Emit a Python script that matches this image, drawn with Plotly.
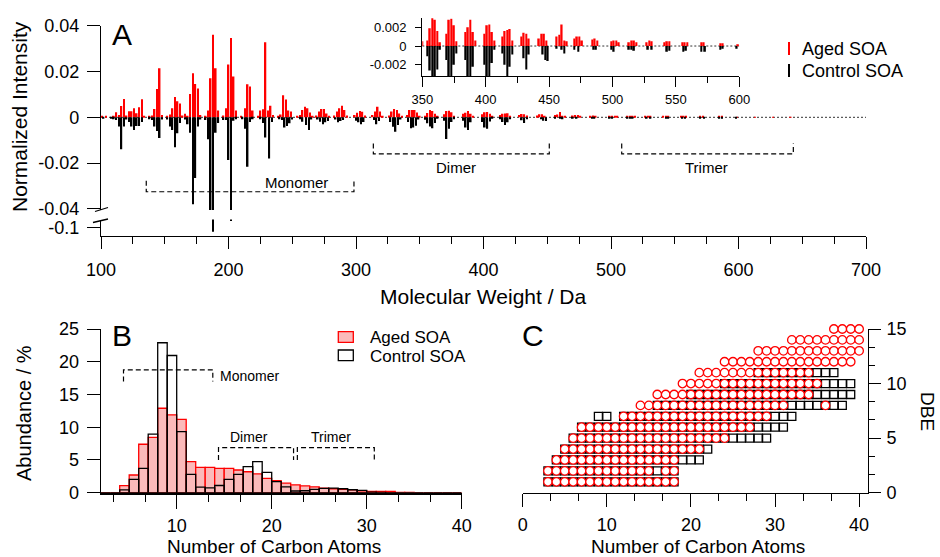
import plotly.graph_objects as go

W, H = 940, 557
def px(x): return x / W
def py(y): return 1 - y / H

FONT = "Liberation Sans, Arial, Helvetica, sans-serif"
RED = "#ff0000"
PINK = "#fbbaba"

# ---------------- Panel A: mass spectra (m/z in Da, normalized intensity) ----------------
aged_mz = [101, 104,
           110, 112, 114, 116, 118, 120,
           122, 124, 126, 128, 130, 132, 134,
           138, 140, 142, 144, 146, 148,
           152, 154, 156, 158, 160, 162, 164,
           166, 168, 170, 172, 174, 176, 178,
           182, 184, 186, 188, 190, 192,
           196, 198, 200, 202, 204, 206,
           210, 213, 215, 217, 219,
           223, 225, 227, 229, 231, 233, 235,
           239, 241, 243, 245, 247, 249,
           254, 256, 258, 260, 262, 264, 266,
           269, 271, 273, 275, 277, 279,
           283, 285, 287, 289, 291, 293,
           299, 301, 303, 305, 307,
           313, 315, 317, 319, 321,
           326, 328, 330, 332, 334, 336,
           340, 342, 344, 346, 348, 350,
           354, 356, 358, 360, 362, 364,
           369, 371, 373, 375, 377,
           384, 386, 388, 390, 392,
           399, 401, 403, 405, 407,
           413, 415, 417, 419, 421,
           428, 430, 432, 434,
           442, 444, 446, 448,
           456, 458, 460, 462, 464,
           470, 472, 474, 476,
           484, 486, 488,
           499, 501, 503, 505,
           513, 515, 517, 519,
           527, 529, 531,
           541, 543, 545,
           555, 557, 559,
           570, 572,
           585, 587,
           599, 613, 627, 641]
aged_int = [0.0007, 0.0006,
            0.0006, 0.0022, 0.0010, 0.0049, 0.0080, 0.0008,
            0.0026, 0.0026, 0.0040, 0.0018, 0.0044, 0.0079, 0.0006,
            0.0005, 0.0008, 0.0036, 0.0124, 0.0214, 0.0010,
            0.0005, 0.0012, 0.0040, 0.0089, 0.0070, 0.0060, 0.0008,
            0.0015, 0.0006, 0.0102, 0.0192, 0.0145, 0.0126, 0.0010,
            0.0005, 0.0030, 0.0170, 0.0360, 0.0214, 0.0030,
            0.0008, 0.0040, 0.0231, 0.0346, 0.0178, 0.0030,
            0.0006, 0.0040, 0.0144, 0.0134, 0.0030,
            0.0006, 0.0030, 0.0035, 0.0328, 0.0030, 0.0050, 0.0010,
            0.0006, 0.0012, 0.0096, 0.0078, 0.0030, 0.0025,
            0.0006, 0.0010, 0.0032, 0.0046, 0.0039, 0.0021, 0.0006,
            0.0008, 0.0025, 0.0036, 0.0036, 0.0017, 0.0006,
            0.0008, 0.0025, 0.0040, 0.0050, 0.0032, 0.0008,
            0.0010, 0.0020, 0.0027, 0.0024, 0.0008,
            0.0010, 0.0025, 0.0046, 0.0025, 0.0006,
            0.0008, 0.0025, 0.0036, 0.0032, 0.0017, 0.0005,
            0.0010, 0.0032, 0.0032, 0.0032, 0.0021, 0.0005,
            0.0006, 0.0019, 0.0032, 0.0028, 0.0016, 0.0004,
            0.0013, 0.0028, 0.0029, 0.0022, 0.0005,
            0.0015, 0.0020, 0.0028, 0.0015, 0.0006,
            0.0013, 0.0022, 0.0023, 0.0015, 0.0006,
            0.0010, 0.0016, 0.0017, 0.0018, 0.0006,
            0.0010, 0.0014, 0.0013, 0.0008,
            0.0008, 0.0013, 0.0013, 0.0006,
            0.0010, 0.0012, 0.0023, 0.0006, 0.0005,
            0.0008, 0.0010, 0.0010, 0.0006,
            0.0007, 0.0008, 0.0006,
            0.0005, 0.0006, 0.0006, 0.0004,
            0.0004, 0.0006, 0.0006, 0.0004,
            0.0004, 0.0006, 0.0005,
            0.0004, 0.0005, 0.0005,
            0.0004, 0.0004, 0.0004,
            0.0004, 0.0004,
            0.0003, 0.0003,
            0.0002, 0.0002, 0.0002, 0.0001]

control_mz = [102,
              108, 110, 112, 114, 116, 118, 120,
              122, 124, 126, 128, 130, 132,
              138, 140, 142, 144, 146, 148,
              152, 154, 156, 158, 160, 162,
              166, 168, 170, 172, 174, 176, 178,
              182, 184, 186, 188, 190, 192,
              196, 198, 200, 202, 204, 206,
              211, 213, 215, 217, 219,
              225, 227, 229, 232, 234,
              240, 242, 244, 246, 248, 250,
              256, 258, 261, 263, 265,
              270, 272, 274, 276, 278,
              284, 286, 288, 290,
              300, 302, 304, 306,
              314, 316, 318,
              327, 329, 331, 333, 335,
              341, 343, 345, 347, 349,
              354, 356, 358, 360, 362, 364,
              369, 371, 373, 375, 377,
              384, 386, 388, 390,
              399, 401, 403, 405, 407,
              413, 415, 417, 419, 421,
              430, 432, 434,
              445, 447, 449,
              456, 460, 462,
              470, 473,
              485, 487,
              499, 501,
              513, 515, 517,
              528, 531,
              543, 545,
              556, 558,
              570, 573,
              585, 587,
              598]
control_int = [-0.0004,
               -0.0006, -0.0008, -0.0012, -0.0040, -0.0140, -0.0040, -0.0010,
               -0.0020, -0.0040, -0.0055, -0.0038, -0.0038, -0.0020,
               -0.0008, -0.0012, -0.0040, -0.0060, -0.0090, -0.0010,
               -0.0010, -0.0040, -0.0055, -0.0131, -0.0070, -0.0025,
               -0.0010, -0.0030, -0.0068, -0.0380, -0.0265, -0.0040, -0.0010,
               -0.0012, -0.0096, -0.0520, -0.1050, -0.0067, -0.0025,
               -0.0012, -0.0012, -0.0187, -0.0920, -0.0015, -0.0008,
               -0.0008, -0.0050, -0.0216, -0.0020, -0.0008,
               -0.0008, -0.0025, -0.0088, -0.0180, -0.0020,
               -0.0008, -0.0012, -0.0044, -0.0038, -0.0026, -0.0010,
               -0.0008, -0.0019, -0.0034, -0.0055, -0.0010,
               -0.0010, -0.0019, -0.0030, -0.0022, -0.0016,
               -0.0010, -0.0022, -0.0016, -0.0012,
               -0.0015, -0.0022, -0.0030, -0.0020,
               -0.0012, -0.0030, -0.0016,
               -0.0020, -0.0041, -0.0063, -0.0034, -0.0010,
               -0.0020, -0.0048, -0.0045, -0.0037, -0.0010,
               -0.0011, -0.0026, -0.0040, -0.0048, -0.0025, -0.0004,
               -0.0015, -0.0095, -0.0050, -0.0020, -0.0008,
               -0.0015, -0.0045, -0.0055, -0.0022,
               -0.0020, -0.0045, -0.0050, -0.0018, -0.0004,
               -0.0008, -0.0020, -0.0034, -0.0022, -0.0009,
               -0.0013, -0.0025, -0.0009,
               -0.0009, -0.0015, -0.0016,
               -0.0003, -0.0004, -0.0008,
               -0.0004, -0.0006,
               -0.0004, -0.0004,
               -0.0004, -0.0006,
               -0.0004, -0.0004, -0.0005,
               -0.0004, -0.0004,
               -0.0006, -0.0005,
               -0.0006, -0.0005,
               -0.0006, -0.0006,
               -0.0004, -0.0003,
               -0.0003]

# ---------------- Panel B: carbon-number distribution (%) ----------------
carbon_bins = [2, 3, 4, 5, 6, 7, 8, 9, 10, 11, 12, 13, 14, 15, 16, 17, 18, 19, 20,
               21, 22, 23, 24, 25, 26, 27, 28, 29, 30, 31, 32, 33, 34, 35, 36, 37, 38, 39]
aged_abund = [0, 0, 1.07, 2.7, 7.4, 8.45, 12.9, 11.9, 11.2, 4.74, 3.88, 3.88, 3.73, 3.73, 3.47,
              3.2, 2.87, 2.2, 1.85, 1.45, 1.2, 1.05, 0.9, 0.7, 0.6, 0.5, 0.45, 0.3, 0.2, 0.2,
              0.2, 0.05, 0.03, 0, 0, 0, 0, 0]
control_abund = [0, 0, 0.42, 2.05, 3.73, 8.96, 22.9, 20.95, 9.33, 2.8, 0.85, 0.75, 1.1, 2.05, 2.8,
                 3.98, 4.74, 3.1, 1.7, 0.9, 0.26, 0.3, 0.5, 0.65, 0.7, 0.6, 0.45, 0.35, 0.1, 0.05,
                 0.02, 0, 0, 0, 0, 0, 0, 0]

# ---------------- Panel C: DBE vs carbon number (segments of carbon numbers per DBE) ----------------
aged_dbe = [1, 2, 3, 4, 5, 6, 7, 8, 9, 10, 11, 12, 13, 14, 15]
aged_segments = [[(3, 18)], [(3, 15), (17, 18)], [(4, 18)], [(5, 21)], [(6, 24)], [(7, 27)],
                 [(12, 29)], [(14, 31), (36, 36)], [(16, 34)], [(19, 35)], [(21, 34)],
                 [(24, 39)], [(28, 40)], [(32, 40)], [(37, 40)]]
control_dbe = [1, 2, 3, 4, 5, 6, 7, 8, 9, 10, 11]
control_segments = [[(3, 18)], [(3, 18)], [(4, 21)], [(5, 22)], [(6, 29)], [(7, 31)],
                    [(9, 10), (12, 32)], [(16, 38)], [(20, 39)], [(24, 39)], [(28, 37)]]

def expand(dbes, segs):
    cs, ds = [], []
    for d, sl in zip(dbes, segs):
        for a, b in sl:
            for c in range(a, b + 1):
                cs.append(c)
                ds.append(d)
    return cs, ds

aged_c, aged_d = expand(aged_dbe, aged_segments)
ctrl_c, ctrl_d = expand(control_dbe, control_segments)

fig = go.Figure()
BW = 1.25
# Panel A main
fig.add_trace(go.Bar(x=aged_mz, y=aged_int, width=BW, marker=dict(color=RED, line=dict(width=0)),
                     xaxis="x", yaxis="y"))
fig.add_trace(go.Bar(x=control_mz, y=control_int, width=BW, marker=dict(color="black", line=dict(width=0)),
                     xaxis="x", yaxis="y"))
low_mz = [m for m, v in zip(control_mz, control_int) if v < -0.09]
low_int = [v for v in control_int if v < -0.09]
fig.add_trace(go.Bar(x=low_mz, y=low_int, width=BW, marker=dict(color="black", line=dict(width=0)),
                     xaxis="x", yaxis="y2"))
# inset
fig.add_trace(go.Bar(x=aged_mz, y=aged_int, width=BW, marker=dict(color=RED, line=dict(width=0)),
                     xaxis="x3", yaxis="y3"))
fig.add_trace(go.Bar(x=control_mz, y=control_int, width=BW, marker=dict(color="black", line=dict(width=0)),
                     xaxis="x3", yaxis="y3"))
# Panel B
fig.add_trace(go.Bar(x=carbon_bins, y=aged_abund, width=1, offset=0,
                     marker=dict(color=PINK, line=dict(color=RED, width=1.3)), xaxis="x4", yaxis="y4"))
fig.add_trace(go.Bar(x=carbon_bins, y=control_abund, width=1, offset=0,
                     marker=dict(color="rgba(0,0,0,0)", line=dict(color="black", width=1.3)), xaxis="x4", yaxis="y4"))
# Panel C
fig.add_trace(go.Scatter(x=ctrl_c, y=ctrl_d, mode="markers", cliponaxis=False,
                         marker=dict(symbol="square", size=8, color="white", line=dict(color="black", width=1.3)),
                         xaxis="x5", yaxis="y5"))
fig.add_trace(go.Scatter(x=aged_c, y=aged_d, mode="markers", cliponaxis=False,
                         marker=dict(symbol="circle", size=8.5, color="white", line=dict(color=RED, width=1.3)),
                         xaxis="x5", yaxis="y5"))

def ax(**kw):
    d = dict(showgrid=False, zeroline=False, showline=True, linecolor="black", linewidth=1.3,
             ticks="outside", tickcolor="black", tickwidth=1.3, automargin=False,
             tickfont=dict(family=FONT, size=18, color="black"), fixedrange=True)
    d.update(kw)
    return d

def minor(t0, dt, ln):
    return dict(tick0=t0, dtick=dt, ticklen=ln, tickcolor="black", tickwidth=1.3, ticks="outside", showgrid=False)

layout = dict(
    width=W, height=H, autosize=False, margin=dict(l=0, r=0, t=0, b=0),
    paper_bgcolor="white", plot_bgcolor="rgba(0,0,0,0)", barmode="overlay", showlegend=False,
    font=dict(family=FONT, color="black"),
    xaxis=ax(domain=[px(101), px(866)], range=[100, 700], anchor="y2", tickmode="linear", tick0=100, dtick=100,
             ticklen=12.6, minor=minor(100, 25, 7.6), ticklabelstandoff=5),
    yaxis=ax(domain=[py(210), py(25.7)], range=[-0.04048, 0.04], anchor="x",
             tickmode="array", tickvals=[-0.04, -0.02, 0, 0.02, 0.04],
             ticktext=["-0.04", "-0.02", "0", "0.02", "0.04"], ticklen=13, ticklabelstandoff=4),
    yaxis2=ax(domain=[py(235.7), py(219.5)], range=[-0.11, -0.09], anchor="x",
              tickmode="array", tickvals=[-0.1], ticktext=["-0.1"], ticklen=13, ticklabelstandoff=4),
    xaxis3=ax(domain=[px(422.3), px(739.3)], range=[350, 600], anchor="y3", tickmode="linear", tick0=350, dtick=50,
              ticklen=10, minor=minor(350, 25, 6), tickfont=dict(family=FONT, size=13, color="black"),
              ticklabelstandoff=1),
    yaxis3=ax(domain=[py(76), py(18.3)], range=[-0.00319, 0.00295], anchor="x3",
              tickmode="array", tickvals=[-0.002, 0, 0.002], ticktext=["-0.002", "0", "0.002"], ticklen=6,
              tickfont=dict(family=FONT, size=13, color="black"), ticklabelstandoff=6),
    xaxis4=ax(domain=[px(100.7), px(461.7)], range=[2, 40], anchor="y4", tickmode="array",
              tickvals=[10, 20, 30, 40], ticklen=14, minor=minor(0, 10 / 3, 7), linewidth=2.2,
              ticklabelstandoff=2),
    yaxis4=ax(domain=[py(492.7), py(329)], range=[0, 25], anchor="x4", tickmode="linear", tick0=0, dtick=5,
              ticklen=13, ticklabelstandoff=4),
    xaxis5=ax(domain=[px(522.7), px(867.7)], range=[0, 41.02], anchor="y5", tickmode="array",
              tickvals=[0, 10, 20, 30, 40], ticklen=13, minor=minor(0, 10 / 3, 7), ticklabelstandoff=3),
    yaxis5=ax(domain=[py(492.7), py(329)], range=[0, 15], anchor="x5", side="right", tickmode="linear",
              tick0=0, dtick=5, ticklen=12, minor=minor(0, 5 / 3, 6), ticklabelstandoff=2),
)

dash = "5px,3px"
shapes = [
    # zero baselines
    dict(type="line", xref="x", yref="y", x0=100, x1=700, y0=0, y1=0, layer="below",
         line=dict(color="#333333", width=1, dash="2px,2px")),
    dict(type="line", xref="x3", yref="y3", x0=350, x1=600, y0=0, y1=0, layer="below",
         line=dict(color="#333333", width=1, dash="2px,2px")),
    # axis break marks
    dict(type="line", xref="paper", yref="paper", x0=px(95), y0=py(211.5), x1=px(108), y1=py(207.5),
         line=dict(color="black", width=1.3)),
    dict(type="line", xref="paper", yref="paper", x0=px(93), y0=py(222.5), x1=px(108), y1=py(219),
         line=dict(color="black", width=1.3)),
    # Panel A brackets
    dict(type="path", xref="x", yref="y", path="M 135.5,-0.0277 L 135.5,-0.0325 L 298.4,-0.0325 L 298.4,-0.0277",
         line=dict(color="black", width=1.2, dash=dash)),
    dict(type="path", xref="x", yref="y", path="M 313.6,-0.0114 L 313.6,-0.0160 L 451.6,-0.0160 L 451.6,-0.0114",
         line=dict(color="black", width=1.2, dash=dash)),
    dict(type="path", xref="x", yref="y", path="M 508.4,-0.0114 L 508.4,-0.0160 L 643,-0.0160 L 643,-0.0114",
         line=dict(color="black", width=1.2, dash=dash)),
    # Panel B brackets
    dict(type="path", xref="x4", yref="y4", path="M 4.4,16.97 L 4.4,18.76 L 13.8,18.76 L 13.8,16.97",
         line=dict(color="black", width=1.2, dash=dash)),
    dict(type="path", xref="x4", yref="y4", path="M 14.4,5.0 L 14.4,6.88 L 22.3,6.88 L 22.3,5.0",
         line=dict(color="black", width=1.2, dash=dash)),
    dict(type="path", xref="x4", yref="y4", path="M 22.7,5.0 L 22.7,6.88 L 30.8,6.88 L 30.8,5.0",
         line=dict(color="black", width=1.2, dash=dash)),
    # Panel A legend markers
    dict(type="line", xref="paper", yref="paper", x0=px(789), x1=px(789), y0=py(42), y1=py(55),
         line=dict(color=RED, width=2)),
    dict(type="line", xref="paper", yref="paper", x0=px(789), x1=px(789), y0=py(64), y1=py(77),
         line=dict(color="black", width=2)),
    # Panel B legend boxes
    dict(type="rect", xref="paper", yref="paper", x0=px(338.3), x1=px(353.3), y0=py(342.3), y1=py(331.7),
         fillcolor=PINK, line=dict(color=RED, width=1.3)),
    dict(type="rect", xref="paper", yref="paper", x0=px(338.3), x1=px(353.3), y0=py(360.7), y1=py(350),
         fillcolor="white", line=dict(color="black", width=1.3)),
]

def ann(text, x, y, size, xanchor="center", yanchor="middle", xref="paper", yref="paper", angle=0):
    return dict(text=text, x=x, y=y, xref=xref, yref=yref, xanchor=xanchor, yanchor=yanchor,
                showarrow=False, textangle=angle, font=dict(family=FONT, size=size, color="black"))

annotations = [
    ann("A", px(121.5), py(34), 30),
    ann("B", px(122), py(335), 30),
    ann("C", px(532.5), py(335), 30),
    ann("Normalized Intensity", px(20), py(117), 21, angle=-90),
    ann("Molecular Weight / Da", px(483), py(296), 21),
    ann("Abundance / %", px(24), py(413), 20, angle=-90),
    ann("Number of Carbon Atoms", px(274), py(546.5), 19),
    ann("Number of Carbon Atoms", px(698), py(546.5), 19),
    ann("DBE", px(928), py(411), 19, angle=90),
    ann("Aged SOA", px(800), py(48.5), 18, xanchor="left"),
    ann("Control SOA", px(800), py(70.5), 18, xanchor="left"),
    ann("Aged SOA", px(368), py(337), 17, xanchor="left"),
    ann("Control SOA", px(368), py(356), 17, xanchor="left"),
    ann("Monomer", 253, -0.0284, 15, xref="x", yref="y"),
    ann("Dimer", 378.8, -0.0218, 15, xref="x", yref="y"),
    ann("Trimer", 575, -0.0218, 15, xref="x", yref="y"),
    ann("Monomer", 14.3, 17.8, 14, xanchor="left", xref="x4", yref="y4"),
    ann("Dimer", 17.65, 8.56, 14, xref="x4", yref="y4"),
    ann("Trimer", 26.25, 8.56, 14, xref="x4", yref="y4"),
]

layout["shapes"] = shapes
layout["annotations"] = annotations
fig.update_layout(**layout)
fig.write_html("out.html", config={"displayModeBar": False},
               post_script="document.body.style.margin='0';document.body.style.padding='0';"
                           "document.documentElement.style.overflow='hidden';")
